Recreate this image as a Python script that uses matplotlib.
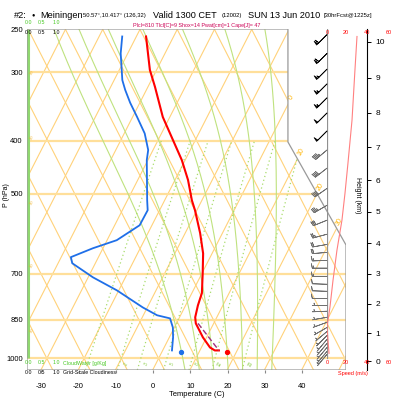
import numpy as np
import matplotlib
matplotlib.use("Agg")
import matplotlib.pyplot as plt
from matplotlib.patches import Polygon

plt.rcParams['font.family'] = ['Liberation Sans', 'DejaVu Sans']

# sounding values (pressure hPa, temperature C)
temp_p = [258, 297, 319, 362, 399, 434, 472, 514, 536, 590, 643, 699, 760, 800,
          841, 863, 915, 955, 967, 967]
temp_c = [-45.9, -40.3, -36.6, -30.4, -24.5, -19.4, -15.0, -11.2, -9.0, -4.5, -0.9,
          1.7, 4.2, 4.8, 5.7, 6.7, 10.5, 13.8, 15.5, 16.6]
dewp_p = [258, 277, 310, 323, 341, 362, 388, 416, 434, 514, 536, 571, 608, 629, 653,
          670, 711, 751, 807, 834, 845, 878, 915, 967]
dewp_c = [-52.3, -50.4, -46.3, -44.2, -41.1, -37.3, -33.0, -29.8, -28.8, -23.2, -21.7,
          -21.8, -25.9, -31.2, -35.9, -34.7, -27.2, -19.0, -9.7, -4.8, -0.9, 1.1, 2.5, 4.0]
parcel_p = [863, 967]
parcel_c = [7.3, 16.6]
sfc_p = 975
sfc_t = 19.1
sfc_td = 6.7

# wind speed profile (m/s)
spd_p = [258, 297, 367, 440, 499, 559, 634, 720, 806, 851, 877, 927, 979]
spd_ms = [29.5, 27.5, 24.6, 20.6, 17.7, 14.7, 9.8, 5.9, 2.9, 1.0, 0.0, 1.0, 2.0]

# wind barbs
barb_p = [256, 277, 296, 315, 334, 356, 384, 416, 449, 489, 525, 559, 593, 619, 640,
          662, 684, 708, 732, 754, 777, 800, 820, 841, 859, 878, 893, 908, 923, 939,
          955, 971, 983]
barb_spd = [31, 30, 29.5, 29, 28, 27, 25.5, 23.5, 21.5, 19.5, 17.5, 15.8, 13.5, 11.5,
            10.3, 9, 8, 7, 6, 5, 4.2, 3.3, 2.5, 1.5, 1.5, 1.5, 1.6, 1.8, 2, 2, 2.2,
            2.2, 2.3]
barb_dir = [225] * 7 + [230, 232, 235, 240, 248, 255, 260, 265, 268, 270, 270, 272,
                        272, 270, 270, 268, 260, 250, 240, 230, 225, 220, 220, 220,
                        220, 220]

p_levels = [250, 300, 400, 500, 700, 850, 1000]
t_ticks = [-30, -20, -10, 0, 10, 20, 30, 40]
mixr = [1, 2, 3, 5, 8, 12, 20]
theta_w = [8, 12, 16, 20, 24, 28, 32]
height_km = list(range(11))
height_p = [1013, 899, 795, 701, 616, 540, 472, 411, 356, 307, 264]

SKEW = 32.5
OFF = 1.5
PBOT, PTOP = 1050, 250


def skx(t, p):
    return np.asarray(t, float) + SKEW * np.log(1000.0 / np.asarray(p, float))


def es(tk):
    return 6.112 * np.exp(17.67 * (tk - 273.15) / (tk - 29.65))


def dtdlnp(tk, p):
    rs = 0.622 * es(tk) / (p - es(tk))
    return (287.04 * tk + 2.5e6 * rs) / (1005.7 + 2.5e6 ** 2 * rs * 0.622 / (287.04 * tk * tk))


def pseudo(tw):
    out_p, out_t = [1000.0], [tw + 273.15]
    for direction, pend in ((-1, PTOP), (1, PBOT)):
        lp, tk = np.log(1000.0), tw + 273.15
        ps, ts = [], []
        h = 0.01 * direction
        while (direction < 0 and lp > np.log(pend)) or (direction > 0 and lp < np.log(pend)):
            k1 = dtdlnp(tk, np.exp(lp))
            k2 = dtdlnp(tk + h * k1, np.exp(lp + h))
            tk += h * 0.5 * (k1 + k2)
            lp += h
            ps.append(np.exp(lp))
            ts.append(tk)
        if direction < 0:
            out_p, out_t = ps[::-1] + out_p, ts[::-1] + out_t
        else:
            out_p, out_t = out_p + ps, out_t + ts
    return np.array(out_p), np.array(out_t) - 273.15


fig = plt.figure(figsize=(4, 4), dpi=100)
L, B, W, H = 27 / 400, 30 / 400, 319 / 400, 341 / 400
ax = fig.add_axes([L, B, W, H])
ax.set_yscale('log')
ax.set_ylim(PBOT, PTOP)
ax.set_xlim(-33.83, 51.81)
for s in ax.spines.values():
    s.set_visible(False)

verts = [(0, 0), (0, 1), (0.818, 1), (0.818, 0.6686), (1, 0.3666), (1, 0)]
frame = Polygon(verts, closed=True, transform=ax.transAxes, facecolor='none',
                edgecolor='#9a9a9a', lw=0.9, zorder=6)
ax.add_patch(frame)
clip = Polygon(verts, closed=True, transform=ax.transAxes, facecolor='none', edgecolor='none')
ax.add_patch(clip)

lines = []
pp = np.array([PBOT, PTOP])
for k in range(-14, 7):
    t = 10 * k + OFF
    lines += ax.plot(skx([t, t], pp), pp, color='#ffd27a', lw=0.8, zorder=1)
for k in range(-4, 18):
    c = 10 * k + OFF
    lines += ax.plot(c - SKEW * np.log(1000.0 / pp), pp, color='#ffd27a', lw=0.8, zorder=1)
for p in p_levels[1:]:
    lines += ax.plot([-40, 60], [p, p], color='#ffdf9a', lw=1.6, zorder=1)
for tw in theta_w:
    mp, mt = pseudo(tw)
    lines += ax.plot(skx(mt, mp), mp, color='#bfe27f', lw=0.8, zorder=2)
mr_p = np.exp(np.linspace(np.log(PBOT), np.log(400), 40))
for w in mixr:
    e = w * mr_p / (622.0 + w)
    a = np.log(e / 6.112)
    td = 243.5 * a / (17.67 - a)
    lines += ax.plot(skx(td, mr_p), mr_p, color='#a9dc6c', lw=0.9, ls=(0, (1, 2.2)), zorder=2)
    if w > 1:
        e0 = w * 1025 / (622.0 + w)
        a0 = np.log(e0 / 6.112)
        x0 = skx(243.5 * a0 / (17.67 - a0), 1025) + 1.8
        ax.text(x0, 1025, str(w), color='#88cc44', fontsize=3.3, rotation=60,
                ha='center', va='center', zorder=5)
for ln in lines:
    ln.set_clip_path(clip)

# isotherm labels on the right edge
for t, p in zip([0, 10, 20, 30], [333, 420, 486, 564]):
    ax.text(skx(t + OFF, p), p, str(t), color='#ffb400', fontsize=5, rotation=60,
            ha='center', va='center', zorder=5)
for p in [300, 394, 520, 676, 889]:
    ax.text(0.017, p, '20', transform=ax.get_yaxis_transform(), color='#f0b020',
            fontsize=3, rotation=60, ha='center', va='center', zorder=5)

# cloud water zero line
ax.plot([0.004, 0.004], [0.035, 1.0], transform=ax.transAxes, color='#90d870', lw=2.2,
        zorder=4, solid_capstyle='butt')

# sounding
ax.plot(skx(dewp_c, dewp_p), dewp_p, color='#1f6fe8', lw=1.3, zorder=7)
ax.plot(skx(temp_c, temp_p), temp_p, color='#ff0000', lw=1.5, zorder=7)
ax.plot(skx(parcel_c, parcel_p), parcel_p, color='#a0307f', lw=1.0, ls=(0, (4, 2)), zorder=7)
ax.plot(skx(sfc_t, sfc_p), sfc_p, 'o', color='#ff0000', ms=2.8, zorder=8)
ax.plot(skx(sfc_td, sfc_p), sfc_p, 'o', color='#1f6fe8', ms=2.8, zorder=8)

ax.set_xticks(t_ticks)
ax.set_xticklabels([str(t) for t in t_ticks])
ax.tick_params(axis='x', direction='out', length=2.5, color='#888888', labelsize=5.5, pad=7)
ax.set_yticks(p_levels)
ax.set_yticklabels([str(p) for p in p_levels])
ax.yaxis.set_minor_locator(matplotlib.ticker.NullLocator())
ax.tick_params(axis='y', length=0, labelsize=5.5, pad=3)

# wind speed panel
axs = fig.add_axes([327 / 400, B, 61 / 400, H])
axs.set_yscale('log')
axs.set_ylim(PBOT, PTOP)
axs.set_xlim(0, 60)
axs.patch.set_visible(False)
axs.axis('off')
axs.plot([0, 0], [1000, 250], color='#909090', lw=0.9, zorder=2)
axs.plot(spd_ms, spd_p, color='#ff8080', lw=0.8, zorder=3)
d = np.radians(barb_dir)
kt = np.array(barb_spd) * 1.944
u = -kt * np.sin(d)
v = -kt * np.cos(d)
cols = ['black'] * 7 + ['#707070'] * (len(barb_p) - 7)
axs.barbs(np.zeros(len(barb_p)), barb_p, u, v, color=cols, length=4.6, linewidth=0.55,
          sizes=dict(emptybarb=0.0, height=0.3, width=0.12, spacing=0.1),
          zorder=4, clip_on=False)
for sv, x in zip([0, 20, 40, 60], [327, 346, 367, 389]):
    fig.text(x / 400, 1 - 33 / 400, str(sv), color='red', fontsize=4, ha='center', va='center')
    fig.text(x / 400, 1 - 363 / 400, str(sv), color='red', fontsize=4, ha='center', va='center')
fig.text(353 / 400, 1 - 373 / 400, 'Speed (m/s)', color='red', fontsize=4, ha='center', va='center')

# height axis
axh = fig.add_axes([367 / 400 - 0.0005, B, 0.0005, H])
axh.set_yscale('log')
axh.set_ylim(PBOT, PTOP)
axh.patch.set_visible(False)
for k, s in axh.spines.items():
    s.set_visible(k == 'right')
axh.spines['right'].set_linewidth(0.8)
axh.set_xticks([])
axh.yaxis.tick_right()
axh.set_yticks(height_p)
axh.set_yticklabels([str(h) for h in height_km])
axh.yaxis.set_minor_locator(matplotlib.ticker.NullLocator())
axh.tick_params(axis='y', length=3, width=0.7, labelsize=6, pad=3)
fig.text(357 / 400, 1 - 195 / 400, 'Height (km)', rotation=270, fontsize=5,
         ha='center', va='center')

# labels
fig.text(7 / 400, 1 - 195 / 400, 'P (hPa)', rotation=90, fontsize=5, ha='center', va='center')
fig.text(197 / 400, 1 - 395 / 400, 'Temperature (C)', fontsize=5.5, ha='center', va='center')

green = '#44c820'
for val, x in zip(['0.0', '0.5', '1.0'], [28, 42, 56]):
    fig.text(x / 400, 1 - 23 / 400, val, color=green, fontsize=3.8, ha='center', va='center')
    fig.text(x / 400, 1 - 33 / 400, val, color='black', fontsize=3.8, ha='center', va='center')
    fig.text(x / 400, 1 - 363 / 400, val, color=green, fontsize=3.8, ha='center', va='center')
    fig.text(x / 400, 1 - 373 / 400, val, color='black', fontsize=3.8, ha='center', va='center')
fig.text(63 / 400, 1 - 363 / 400, 'CloudWater [g/Kg]', color=green, fontsize=3.8, va='center')
fig.text(63 / 400, 1 - 373 / 400, 'Grid-Scale Cloudiness', color='black', fontsize=3.8, va='center')

# title
ty = 1 - 15 / 400
fig.text(14 / 400, ty, '#2:', fontsize=6.6, va='center')
fig.text(32 / 400, ty, '\u25cf', fontsize=4, va='center')
fig.text(40 / 400, ty, 'Meiningen', fontsize=6.6, va='center')
fig.text(83 / 400, ty, '50.57\u00b0,10.417\u00b0 (126,32)', fontsize=4.2, va='center')
fig.text(153 / 400, ty, 'Valid 1300 CET', fontsize=6.6, va='center')
fig.text(222 / 400, ty, '(12002)', fontsize=4.2, va='center')
fig.text(248 / 400, ty, 'SUN 13 Jun 2010', fontsize=6.6, va='center')
fig.text(324 / 400, ty, '[30hrFcst@1225z]', fontsize=4.2, va='center')
fig.text(197 / 400, 1 - 26 / 400, 'Plcl=810 Tlcl[C]=9 Shox=14 Pwat[cm]=1 Cape[J]= 47',
         color='#cc0055', fontsize=3.9, ha='center', va='center')

fig.savefig('out.png', dpi=100)
